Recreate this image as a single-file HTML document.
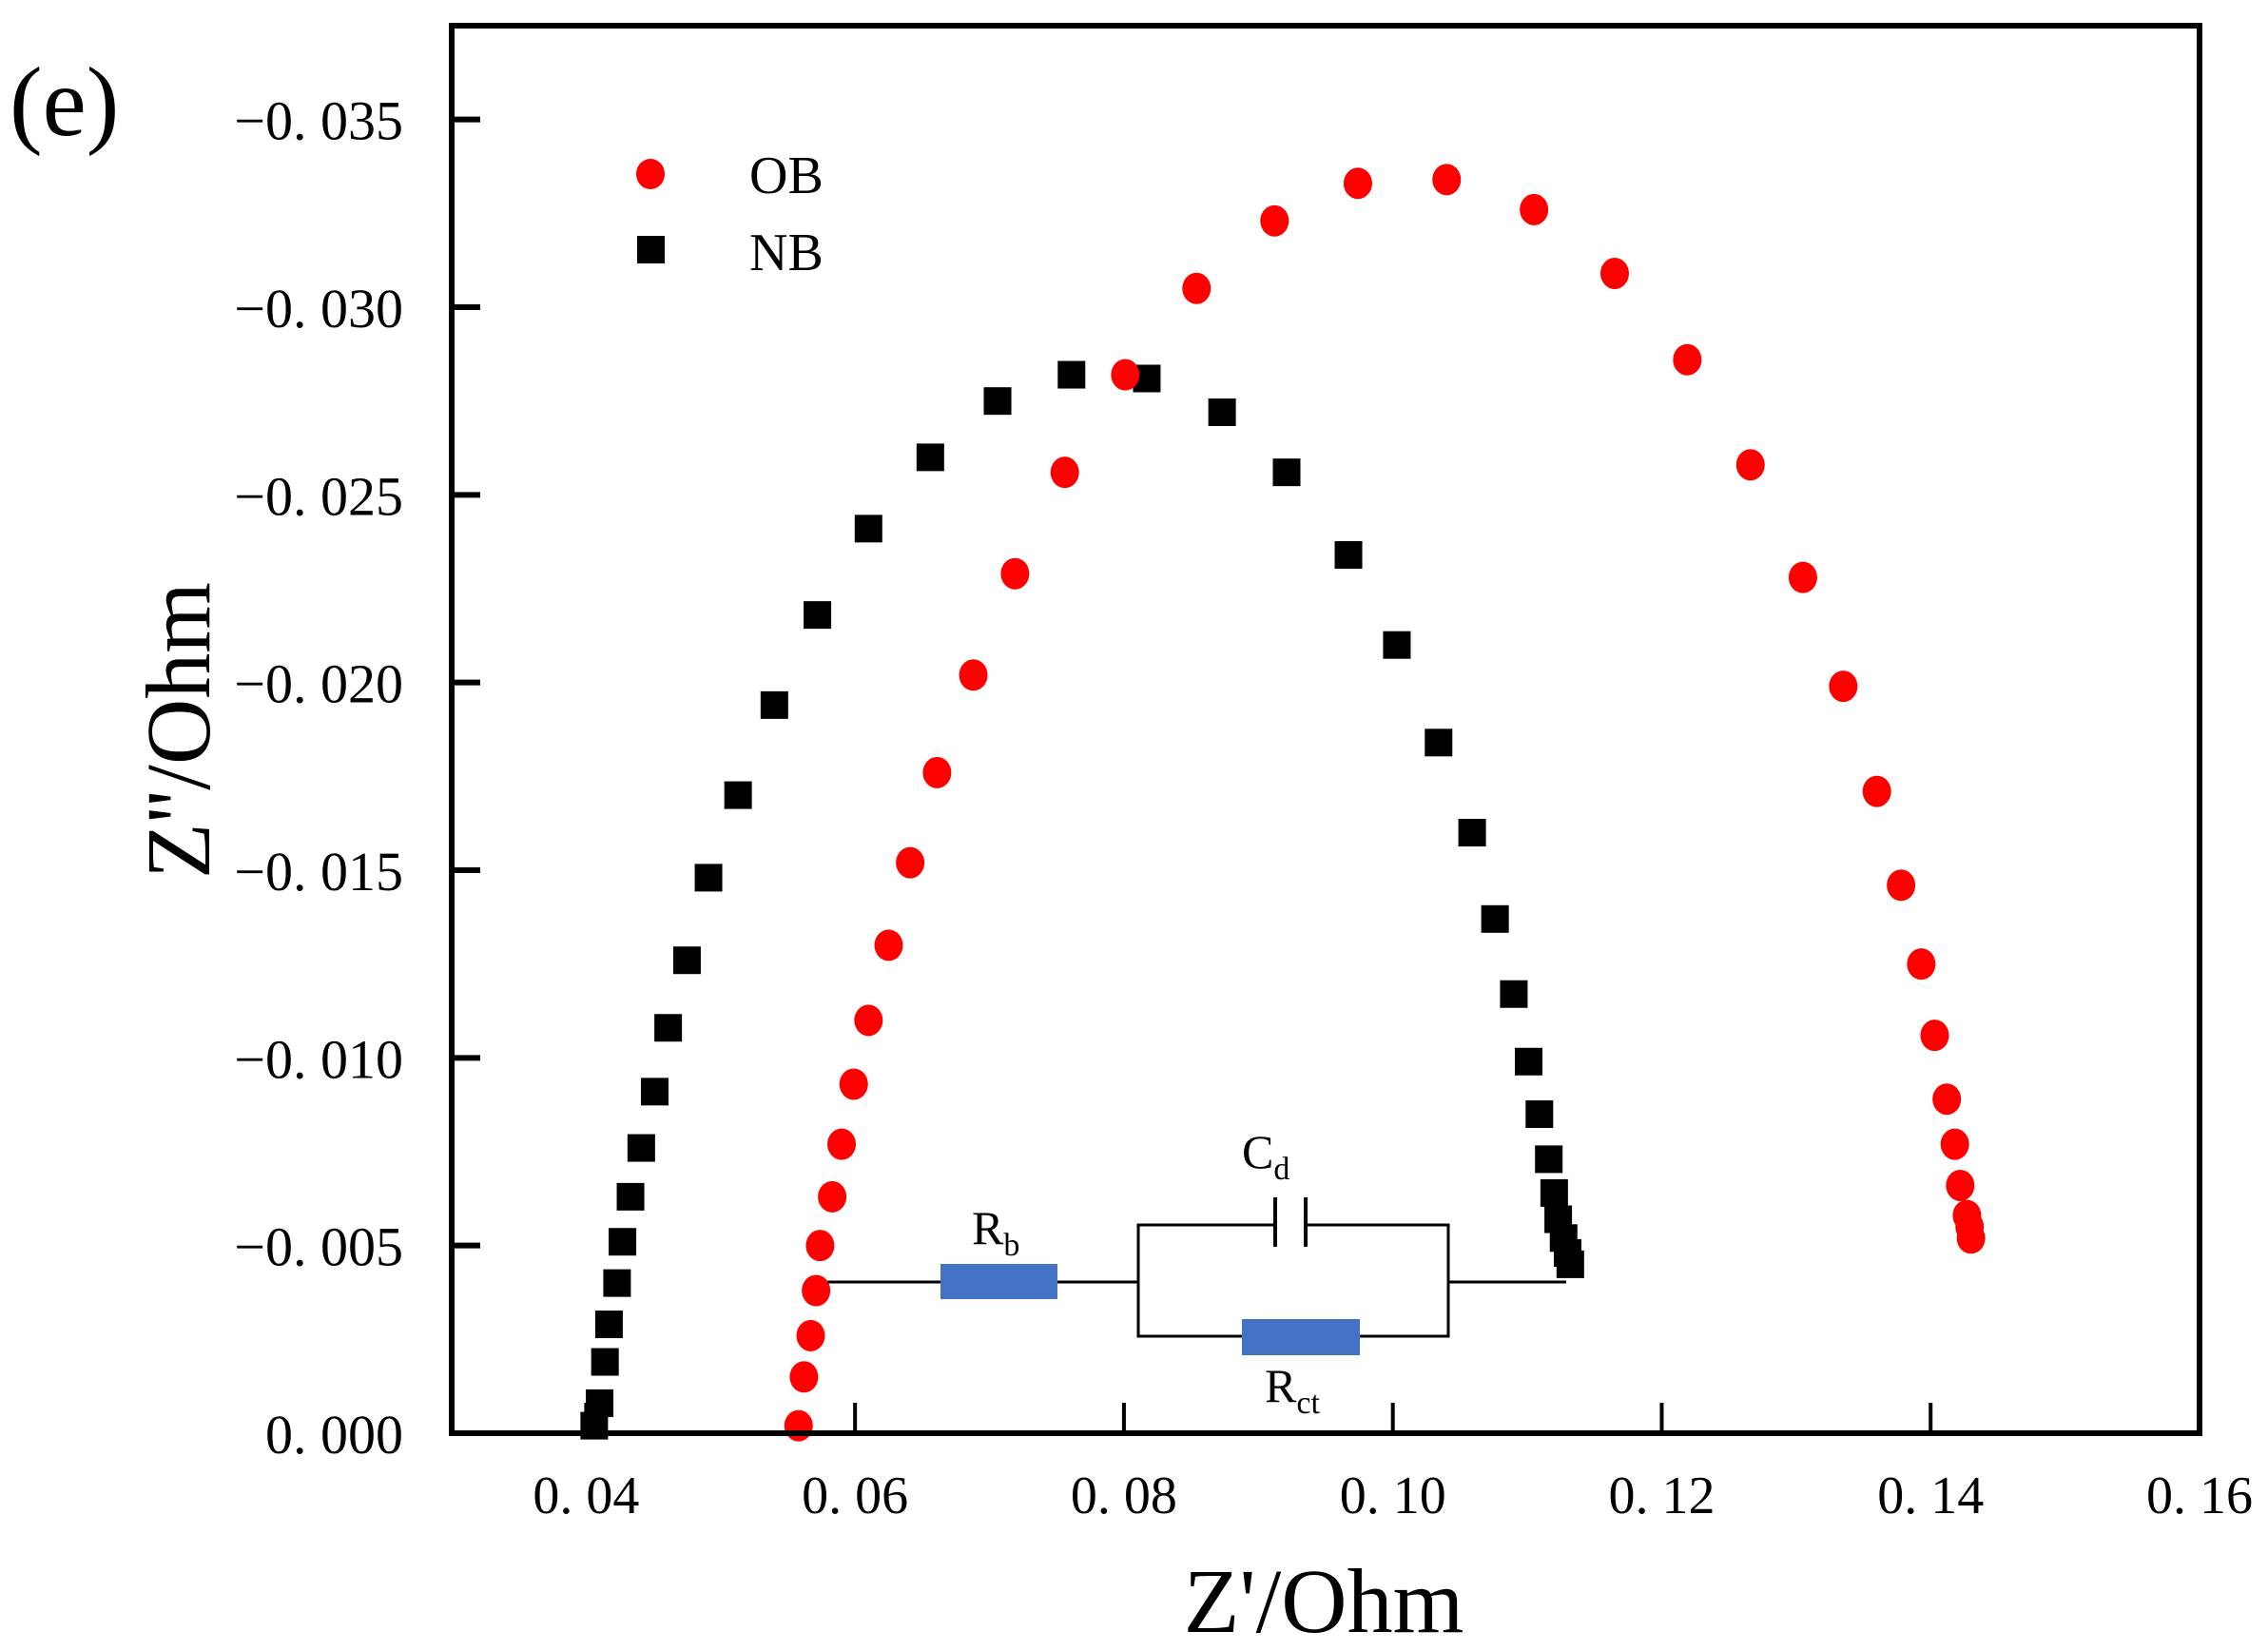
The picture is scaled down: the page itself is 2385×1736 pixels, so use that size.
<!DOCTYPE html>
<html><head><meta charset="utf-8">
<style>
html,body{margin:0;padding:0;background:#fff;}
svg{display:block;font-family:"Liberation Serif",serif;}
</style></head>
<body>
<svg id="chart" width="2385" height="1736" viewBox="0 0 2385 1736" xmlns="http://www.w3.org/2000/svg">
<rect x="0" y="0" width="2385" height="1736" fill="#fff"/>
<text x="10" y="142" font-size="104">(e)</text>
<g id="marks"></g>
<g id="axes"></g>
<g id="circuit">
  <line x1="870" y1="1348" x2="1197" y2="1348" stroke="#000" stroke-width="3"/>
  <line x1="1523" y1="1348" x2="1647" y2="1348" stroke="#000" stroke-width="3"/>
  <rect x="989" y="1329" width="123" height="37" fill="#4472C4"/>
  <polyline points="1341,1288 1197,1288 1197,1405 1306,1405" fill="none" stroke="#000" stroke-width="3"/>
  <polyline points="1373,1288 1523,1288 1523,1405 1430,1405" fill="none" stroke="#000" stroke-width="3"/>
  <line x1="1341" y1="1259" x2="1341" y2="1311" stroke="#000" stroke-width="4"/>
  <line x1="1373" y1="1259" x2="1373" y2="1311" stroke="#000" stroke-width="4"/>
  <rect x="1306" y="1387" width="124" height="38" fill="#4472C4"/>
  <text x="1022" y="1308" font-size="50">R<tspan font-size="34" dy="12">b</tspan></text>
  <text x="1306" y="1228" font-size="50">C<tspan font-size="34" dy="12">d</tspan></text>
  <text x="1330" y="1474" font-size="50">R<tspan font-size="34" dy="12">ct</tspan></text>
</g>
<g>
  <ellipse cx="684" cy="183" rx="15" ry="16" fill="#ff0000"/>
  <text x="788" y="203" font-size="56">OB</text>
  <rect x="670" y="248" width="29" height="29" fill="#000"/>
  <text x="788" y="284" font-size="56">NB</text>
</g>
<text x="1392" y="1716" font-size="96" text-anchor="middle">Z'/Ohm</text>
<text x="0" y="0" font-size="96" text-anchor="middle" transform="translate(220,768) rotate(-90)">Z''/Ohm</text>
</svg>
<script>
const nbX = [0.0406,0.0410,0.0414,0.0417,0.0423,0.0427,0.0433,0.0441,0.0451,0.0461,0.0475,0.0491,0.0513,0.0540,0.0572,0.0610,0.0656,0.0706,0.0761,0.0817,0.0873,0.0921,0.0967,0.1003,0.1034,0.1059,0.1076,0.1090,0.1101,0.1109,0.1116,0.1120,0.1123,0.1127,0.1130,0.1132];
const nbY = [0.0002,0.0008,0.0019,0.0029,0.0040,0.0051,0.0063,0.0076,0.0091,0.0108,0.0126,0.0148,0.0170,0.0194,0.0218,0.0241,0.0260,0.0275,0.0282,0.0281,0.0272,0.0256,0.0234,0.0210,0.0184,0.0160,0.0137,0.0117,0.0099,0.0085,0.0073,0.0064,0.0057,0.0052,0.0048,0.0045];
const obX = [0.0558,0.0562,0.0567,0.0571,0.0574,0.0583,0.0590,0.0599,0.0610,0.0625,0.0641,0.0661,0.0688,0.0719,0.0756,0.0801,0.0854,0.0912,0.0974,0.1040,0.1105,0.1165,0.1219,0.1266,0.1305,0.1335,0.1360,0.1378,0.1393,0.1403,0.1412,0.1418,0.1422,0.1427,0.1429,0.1430];
const obY = [0.0002,0.0015,0.0026,0.0038,0.0050,0.0063,0.0077,0.0093,0.0110,0.0130,0.0152,0.0176,0.0202,0.0229,0.0256,0.0282,0.0305,0.0323,0.0333,0.0334,0.0326,0.0309,0.0286,0.0258,0.0228,0.0199,0.0171,0.0146,0.0125,0.0106,0.0089,0.0077,0.0066,0.0058,0.0055,0.0052];
const xTicks = [0.04,0.06,0.08,0.10,0.12,0.14,0.16];
const xTickLabels = ["0. 04","0. 06","0. 08","0. 10","0. 12","0. 14","0. 16"];
const yTicks = [0,0.005,0.010,0.015,0.020,0.025,0.030,0.035];
const yTickLabels = ["0. 000","\u22120. 005","\u22120. 010","\u22120. 015","\u22120. 020","\u22120. 025","\u22120. 030","\u22120. 035"];

const NS = "http://www.w3.org/2000/svg";
const L = 475, R = 2313, T = 27, B = 1507;
const xMin = 0.03, xMax = 0.16, yMin = 0, yMax = 0.0375;
function sx(v){ return L + (v - xMin) / (xMax - xMin) * (R - L); }
function sy(v){ return B - (v - yMin) / (yMax - yMin) * (B - T); }
function mk(tag, attrs){ const e = document.createElementNS(NS, tag); for (const k in attrs) e.setAttribute(k, attrs[k]); return e; }

const marks = document.getElementById('marks');
for (let i = 0; i < nbX.length; i++) {
  const r = mk('rect', {x: sx(nbX[i]) - 14.5, y: sy(nbY[i]) - 14.5, width: 29, height: 29, fill: '#000'});
  
  
  marks.appendChild(r);
}
for (let i = 0; i < obX.length; i++) {
  const c = mk('ellipse', {cx: sx(obX[i]), cy: sy(obY[i]), rx: 15, ry: 16.5, fill: '#ff0000'});
  
  
  marks.appendChild(c);
}

const axes = document.getElementById('axes');
const frame = mk('rect', {x: L, y: T, width: R - L, height: B - T, fill: 'none', stroke: '#000', 'stroke-width': 6});


axes.appendChild(frame);
xTicks.forEach((v, i) => {
  const x = sx(v);
  if (v < xMax) {
    const t = mk('line', {x1: x, y1: B, x2: x, y2: B - 32, stroke: '#000', 'stroke-width': 4});
    
    
    axes.appendChild(t);
  }
  const lb = mk('text', {x: x, y: 1591, 'font-size': 56, 'text-anchor': 'middle'});
  lb.textContent = xTickLabels[i];
  
  
  axes.appendChild(lb);
});
yTicks.forEach((v, i) => {
  const y = sy(v);
  if (v > yMin) {
    const t = mk('line', {x1: L, y1: y, x2: L + 30, y2: y, stroke: '#000', 'stroke-width': 6});
    
    
    axes.appendChild(t);
  }
  const lb = mk('text', {x: 424, y: y + 21, 'font-size': 58, 'text-anchor': 'end'});
  lb.textContent = yTickLabels[i];
  
  
  axes.appendChild(lb);
});
</script>
</body></html>
